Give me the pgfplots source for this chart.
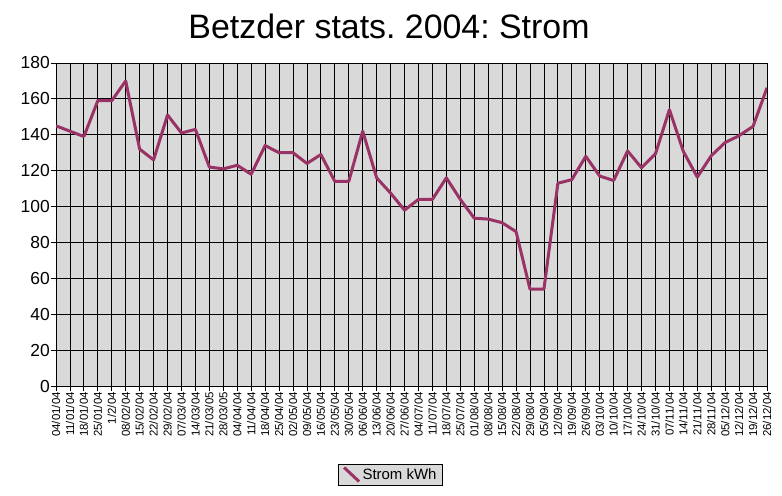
\documentclass[border=0pt]{standalone}
\usepackage{pgfplots}
\pgfplotsset{compat=1.18}
\usepackage{fontspec}
\setmainfont{Liberation Sans}
\frenchspacing
\definecolor{strom}{RGB}{153,51,102}
\definecolor{plotbg}{RGB}{217,217,217}
\pgfplotstableread{
x y
0 145
1 142
2 139
3 159
4 159
5 170
6 132
7 126
8 151
9 141
10 143
11 122
12 121
13 123
14 118
15 134
16 130
17 130
18 124
19 129
20 114
21 114
22 142
23 116
24 107.5
25 98
26 104
27 104
28 116
29 104
30 93.5
31 93
32 91
33 86
34 54
35 54
36 113
37 115
38 128
39 117
40 114.5
41 131
42 121.6
43 129.4
44 154
45 130.7
46 116.4
47 128.3
48 135.7
49 139.5
50 144.7
51 166.2
}\strom
\begin{document}
\begin{tikzpicture}
\useasboundingbox (0,0) rectangle (782bp,496bp);
\node[anchor=base, font=\fontsize{34}{34}\selectfont] at (389bp,457bp) {Betzder stats. 2004: Strom};
\begin{axis}[
  at={(56bp,110bp)}, anchor=south west,
  scale only axis, width=711bp, height=323bp,
  xmin=0, xmax=51, ymin=0, ymax=180,
  ytick={0,20,...,180},
  xtick={0,...,51},
  xticklabels={04/01/04,11/01/04,18/01/04,25/01/04,1/2/04,08/02/04,15/02/04,22/02/04,29/02/04,07/03/04,14/03/04,21/03/05,28/03/05,04/04/04,11/04/04,18/04/04,25/04/04,02/05/04,09/05/04,16/05/04,23/05/04,30/05/04,06/06/04,13/06/04,20/06/04,27/06/04,04/07/04,11/07/04,18/07/04,25/07/04,01/08/04,08/08/04,15/08/04,22/08/04,29/08/04,05/09/04,12/09/04,19/09/04,26/09/04,03/10/04,10/10/04,17/10/04,24/10/04,31/10/04,07/11/04,14/11/04,21/11/04,28/11/04,05/12/04,12/12/04,19/12/04,26/12/04},
  /pgf/number format/assume math mode=true,
  xticklabel style={rotate=90, anchor=east, font=\fontsize{11.5}{11.5}\selectfont, inner sep=1bp},
  yticklabel style={font=\fontsize{17.5}{17.5}\selectfont, inner sep=1bp},
  tick align=outside, tick pos=left,
  major tick length=5bp,
  every tick/.style={black, line width=0.8bp},
  grid=major,
  major grid style={black, line width=0.8bp},
  axis line style={black, line width=0.8bp},
  axis background/.style={fill=plotbg},
  legend style={at={(0.4705,-0.274)}, anchor=center, fill=plotbg, draw=black, line width=0.8bp,
    font=\fontsize{15}{15}\selectfont, inner xsep=4bp, inner ysep=2bp},
  legend image code/.code={\draw[#1, line width=3bp] (0bp,7bp) -- (15bp,-7bp);},
]
\addplot[strom, line width=3bp, line join=round] table[x=x, y=y] {\strom};
\addlegendentry{Strom kWh}
\end{axis}
\end{tikzpicture}
\end{document}
